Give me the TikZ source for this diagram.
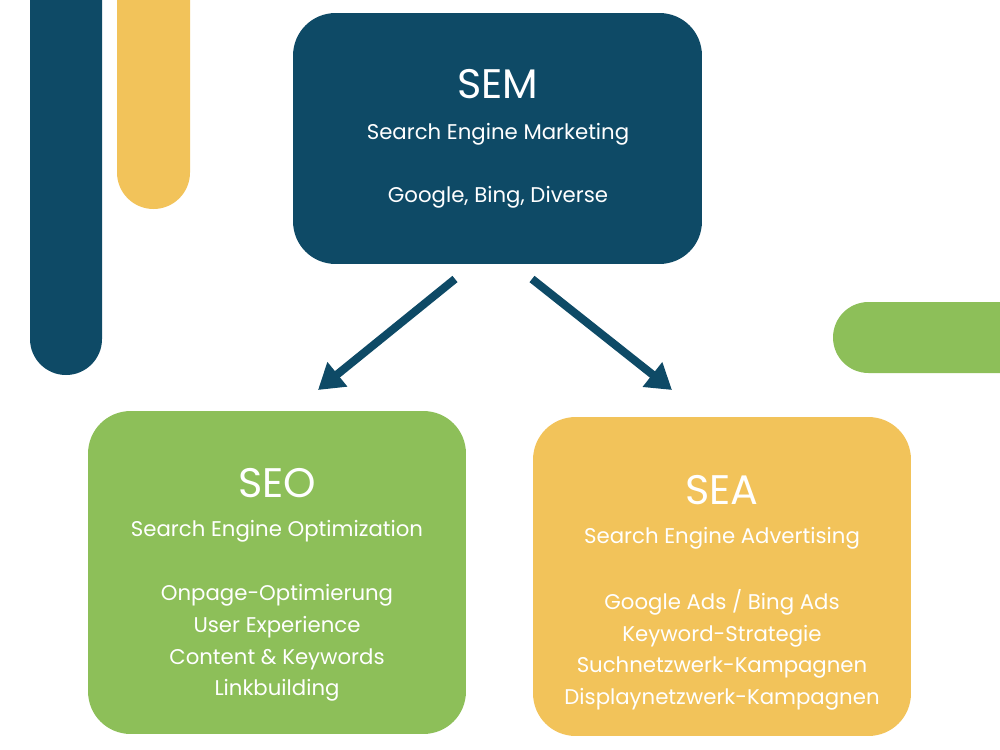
\documentclass[tikz,border=0pt]{standalone}
\usepackage{fontspec}
\setmainfont{Poppins}
\usetikzlibrary{arrows.meta}
\definecolor{navy}{HTML}{0E4A66}
\definecolor{leaf}{HTML}{8DBF59}
\definecolor{sun}{HTML}{F2C35A}
\tikzset{
  box/.style={rounded corners=0.85cm, inner sep=0pt},
  ttl/.style={text=white, font=\fontsize{23.5}{26}\selectfont, inner sep=0pt},
  sub/.style={text=white, font=\fontsize{12.1}{14}\selectfont, inner sep=0pt},
  lst/.style={text=white, font=\fontsize{12.1}{18}\selectfont, align=center, inner sep=0pt},
  arr/.style={draw=navy, line width=4.6pt, -{Triangle[length=0.5cm,width=0.6cm]}},
}
\begin{document}
\begin{tikzpicture}[x=0.02cm,y=-0.02cm]
\useasboundingbox (0,0) rectangle (1000,750);
\clip (0,0) rectangle (1000,750);
% decorative bars
\fill[navy, rounded corners=0.72cm] (30,-100) rectangle (102,375);
\fill[sun, rounded corners=0.73cm] (117,-100) rectangle (190,209);
\fill[leaf, rounded corners=0.71cm] (833,302) rectangle (1100,373);
% boxes
\node[box, fill=navy, minimum width=8.18cm, minimum height=5.02cm] (sem) at (497.5,138.5) {};
\node[box, fill=leaf, minimum width=7.56cm, minimum height=6.46cm] (seo) at (277,572.5) {};
\node[box, fill=sun, minimum width=7.56cm, minimum height=6.38cm] (sea) at (722,576.5) {};
% texts
\node[ttl] (semt) at (498,84) {SEM};
\node[sub] (sems) at (498,134) {Search Engine Marketing};
\node[sub] (seml) at (498,197) {Google, Bing, Diverse};
\node[ttl] (seot) at (277,483) {SEO};
\node[sub] (seos) at (277,531) {Search Engine Optimization};
\node[lst] (seol) at (277,643) {Onpage-Optimierung\\User Experience\\Content \& Keywords\\Linkbuilding};
\node[ttl] (seat) at (722,490) {SEA};
\node[sub] (seas) at (722,538) {Search Engine Advertising};
\node[lst] (seal) at (722,650) {Google Ads / Bing Ads\\Keyword-Strategie\\Suchnetzwerk-Kampagnen\\Displaynetzwerk-Kampagnen};
% arrows
\coordinate (a1s) at (455,279);
\coordinate (a1e) at (318,390);
\coordinate (a2s) at (532,279);
\coordinate (a2e) at (672,390);
\draw[arr] (a1s) -- (a1e);
\draw[arr] (a2s) -- (a2e);
\end{tikzpicture}
\end{document}
